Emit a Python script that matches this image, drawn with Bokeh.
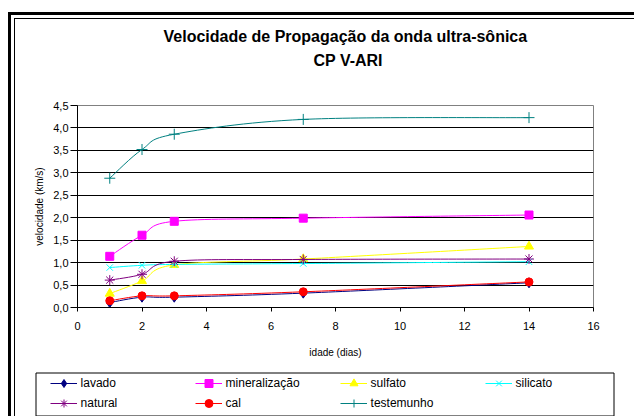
from bokeh.plotting import figure
from bokeh.layouts import column
from bokeh.models import (Label, Legend, LegendItem, FixedTicker,
                          CustomJSTickFormatter, Range1d)
from bokeh.embed import file_html
from bokeh.resources import INLINE
import numpy as np

# ---- data ----
days = [1, 2, 3, 7, 14]
lavado = [0.11, 0.23, 0.23, 0.32, 0.55]
mineralizacao = [1.14, 1.61, 1.92, 1.99, 2.06]
sulfato = [0.31, 0.59, 0.95, 1.08, 1.36]
silicato = [0.89, 0.94, 0.96, 0.98, 1.02]
natural = [0.61, 0.74, 1.03, 1.07, 1.08]
cal = [0.15, 0.26, 0.26, 0.35, 0.57]
testemunho = [2.88, 3.52, 3.86, 4.19, 4.23]

series_names = ["lavado", "mineralização", "sulfato", "silicato",
                "natural", "cal", "testemunho"]
series_values = [lavado, mineralizacao, sulfato, silicato, natural, cal, testemunho]

x_ticks = [0, 2, 4, 6, 8, 10, 12, 14, 16]
y_ticks = [0, 0.5, 1.0, 1.5, 2.0, 2.5, 3.0, 3.5, 4.0, 4.5]

title_line1 = "Velocidade de Propagação da onda ultra-sônica"
title_line2 = "CP V-ARI"
x_title = "idade (dias)"
y_title = "velocidade (km/s)"

# ---- styles ----
colors = ["#000080", "#FF00FF", "#FFFF00", "#00FFFF", "#800080", "#FF0000", "#008080"]
markers = ["diamond", "square", "triangle", "x", "asterisk", "circle", "cross"]
sizes = [10, 8, 9, 9, 10, 8, 11]
FONT = "Liberation Sans"
W = 634

LEFT_BORDERS = ("inset 8px 0 0 0 white, inset 11px 0 0 0 black, "
                "inset 14px 0 0 0 white, inset 15px 0 0 0 black")
FULL_BORDERS = ("inset 8px 0 0 0 white, inset 0 12px 0 0 white, "
                "inset 11px 0 0 0 black, inset 0 15px 0 0 black, "
                "inset 14px 0 0 0 white, inset 0 18px 0 0 white, "
                "inset 15px 0 0 0 black, inset 0 19px 0 0 black")


def smooth_segments(xs, ys):
    """Bezier control points (Catmull-Rom style smoothing, like Excel)."""
    x = np.asarray(xs, float)
    y = np.asarray(ys, float)
    n = len(x)
    xp = np.concatenate([[x[0]], x, [x[-1]]])
    yp = np.concatenate([[y[0]], y, [y[-1]]])
    cx0 = x[:-1] + (xp[2:n + 1] - xp[0:n - 1]) / 6.0
    cy0 = y[:-1] + (yp[2:n + 1] - yp[0:n - 1]) / 6.0
    cx1 = x[1:] - (xp[3:n + 2] - xp[1:n]) / 6.0
    cy1 = y[1:] - (yp[3:n + 2] - yp[1:n]) / 6.0
    return dict(x0=x[:-1], y0=y[:-1], x1=x[1:], y1=y[1:],
                cx0=cx0, cy0=cy0, cx1=cx1, cy1=cy1)


# ---------------- title strip (frame = whole strip, page pixel coords) ----------------
t = figure(width=W, height=90, x_range=Range1d(0, W), y_range=Range1d(90, 0),
           x_axis_type=None, y_axis_type=None,
           min_border=0, min_border_left=0, min_border_right=0,
           min_border_top=0, min_border_bottom=0, frame_align=False,
           output_backend="svg", toolbar_location=None,
           outline_line_color=None, background_fill_color=None, border_fill_color=None)
t.grid.visible = False
t.styles = {"box-shadow": FULL_BORDERS}
for txt, xl, yb in ((title_line1, 163, 36), (title_line2, 313, 60)):
    t.add_layout(Label(x=xl, y=yb, text=txt, text_align="left",
                       text_baseline="alphabetic", text_font=FONT,
                       text_font_size="16px", text_font_style="bold",
                       text_color="black"))

# ---------------- main chart ----------------
p = figure(frame_width=516, frame_height=202,
           x_range=Range1d(0, 16), y_range=Range1d(0, 4.5),
           output_backend="svg", toolbar_location=None, title=None,
           min_border_left=77, min_border_right=41,
           min_border_top=15, min_border_bottom=55, frame_align=False,
           border_fill_color=None, background_fill_color="white",
           outline_line_color="#808080", outline_line_width=1)
p.styles = {"box-shadow": LEFT_BORDERS}

p.xgrid.visible = False
p.ygrid.grid_line_color = "black"
p.ygrid.grid_line_width = 1

p.xaxis.ticker = FixedTicker(ticks=x_ticks)
p.yaxis.ticker = FixedTicker(ticks=y_ticks)
p.yaxis.formatter = CustomJSTickFormatter(code="return tick.toFixed(1).replace('.', ',');")

for ax in (p.xaxis[0], p.yaxis[0]):
    ax.axis_line_color = "black"
    ax.major_tick_line_color = "black"
    ax.minor_tick_line_color = None
    ax.major_tick_in = 0
    ax.major_label_text_font = FONT
    ax.major_label_text_font_size = "11px"
    ax.major_label_text_color = "black"
    ax.axis_label_text_font = FONT
    ax.axis_label_text_font_size = "10px"
    ax.axis_label_text_font_style = "normal"
    ax.axis_label_text_color = "black"

p.xaxis.axis_label = x_title
p.xaxis.major_tick_out = 4
p.xaxis.major_label_standoff = 10
p.xaxis.axis_label_standoff = 14
p.yaxis.axis_label = y_title
p.yaxis.major_tick_out = 7
p.yaxis.major_label_standoff = 2
p.yaxis.axis_label_standoff = 5

for name, vals, c, m, s in zip(series_names, series_values, colors, markers, sizes):
    seg = smooth_segments(days, vals)
    p.bezier(source=seg, x0="x0", y0="y0", x1="x1", y1="y1",
             cx0="cx0", cy0="cy0", cx1="cx1", cy1="cy1",
             line_color=c, line_width=1)
    p.scatter(x=days, y=vals, marker=m, size=s,
              fill_color=c, line_color=c, line_width=1)

# ---------------- legend strip (frame = whole strip, page pixel coords) ----------------
LG_TOP, LG_H = 362, 54
lg = figure(width=W, height=LG_H,
            x_range=Range1d(0, W), y_range=Range1d(LG_TOP + LG_H, LG_TOP),
            x_axis_type=None, y_axis_type=None,
            min_border=0, min_border_left=0, min_border_right=0,
            min_border_top=0, min_border_bottom=0, frame_align=False,
            output_backend="svg", toolbar_location=None,
            outline_line_color=None,
            background_fill_color=None, border_fill_color=None)
lg.grid.visible = False
lg.styles = {"box-shadow": LEFT_BORDERS}

# legend frame box
lg.quad(left=[35.5], right=[613.5], top=[372.5], bottom=[415.5],
        fill_color="white", line_color="black", line_width=1)

# legend sample renderers (their data lie outside this strip's ranges, so only the
# legend swatches are visible)
items = []
for name, vals, c, m, s in zip(series_names, series_values, colors, markers, sizes):
    ln = lg.line(x=days, y=vals, line_color=c, line_width=1)
    mk = lg.scatter(x=days, y=vals, marker=m, size=s, fill_color=c, line_color=c)
    items.append(LegendItem(label=name, renderers=[ln, mk]))

legend = Legend(items=items, location=(49.6, 3.3), orientation="horizontal", ncols=4,
                border_line_color=None, background_fill_alpha=0,
                padding=0, spacing=0, margin=0,
                glyph_width=27, glyph_height=20, label_standoff=4, label_width=114,
                label_text_font=FONT, label_text_font_size="12px",
                label_text_color="black")
lg.add_layout(legend)

layout = column(t, p, lg, spacing=0)
open("out.html", "w").write(file_html(layout, INLINE))
